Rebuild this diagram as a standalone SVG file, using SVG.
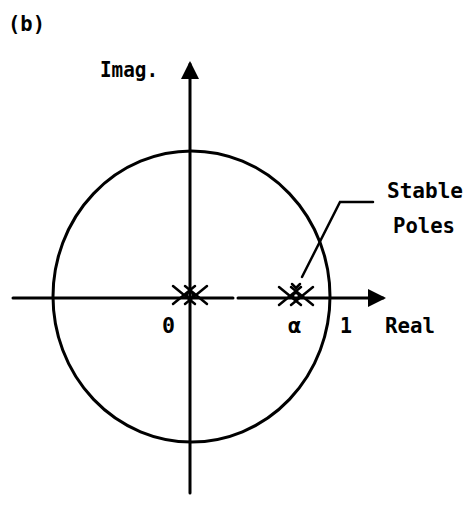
<svg xmlns="http://www.w3.org/2000/svg" width="467" height="506" viewBox="0 0 467 506">
<style>
.ln{fill:none;stroke:#000;stroke-width:3;stroke-linecap:round}
.thin{fill:none;stroke:#000;stroke-width:2.5;stroke-linecap:round}
.t{font-family:"DejaVu Sans Mono","Liberation Mono",monospace;font-weight:bold;font-size:22px;fill:#000}
</style>
<defs>
<marker id="ah" markerWidth="6" markerHeight="6" refX="5" refY="3" orient="auto" markerUnits="strokeWidth">
<path d="M0,0 L6,3 L0,6 Z" fill="#000"/>
</marker>
</defs>
<rect width="467" height="506" fill="#fff"/>
<text class="t" x="8" y="31" font-size="24" textLength="37" lengthAdjust="spacingAndGlyphs">(b)</text>
<g id="unit-circle">
<ellipse class="ln" cx="191.5" cy="296.5" rx="138.5" ry="145.5"/>
</g>
<g id="connectors">
<line class="ln" x1="190" y1="493" x2="190" y2="64" marker-end="url(#ah)"/>
<line class="ln" x1="13" y1="298" x2="233" y2="298"/>
<line class="ln" x1="238" y1="298" x2="383" y2="298" marker-end="url(#ah)"/>
<polyline class="thin" points="302,277 340,202 373,202"/>
</g>
<g id="imag-label"><text class="t" x="100" y="77" font-size="23" textLength="58" lengthAdjust="spacingAndGlyphs">Imag.</text></g>
<g id="real-label"><text class="t" x="385" y="333" textLength="50" lengthAdjust="spacingAndGlyphs">Real</text></g>
<g id="origin-poles">
<path class="thin" d="M173,286 L195,304 M173,304 L195,286 M185,286 L207,304 M185,304 L207,286"/>
<circle class="thin" cx="190" cy="295" r="3"/>
<text class="t" x="162" y="333" textLength="13" lengthAdjust="spacingAndGlyphs">0</text>
</g>
<g id="alpha-poles">
<path class="thin" d="M279,287 L301,305 M279,305 L301,287 M291,287 L313,305 M291,305 L313,287"/>
<circle class="thin" cx="296" cy="296" r="3"/>
<path class="thin" d="M292,284 L296,288 L300,284"/>
<text class="t" x="288" y="333" font-size="17">α</text>
</g>
<g id="one-label"><text class="t" x="340" y="333" textLength="12" lengthAdjust="spacingAndGlyphs">1</text></g>
<g id="stable-poles-label">
<text class="t" x="387" y="198" font-size="25" textLength="76" lengthAdjust="spacingAndGlyphs">Stable</text>
<text class="t" x="393" y="233" font-size="25" textLength="62" lengthAdjust="spacingAndGlyphs">Poles</text>
</g>
</svg>
